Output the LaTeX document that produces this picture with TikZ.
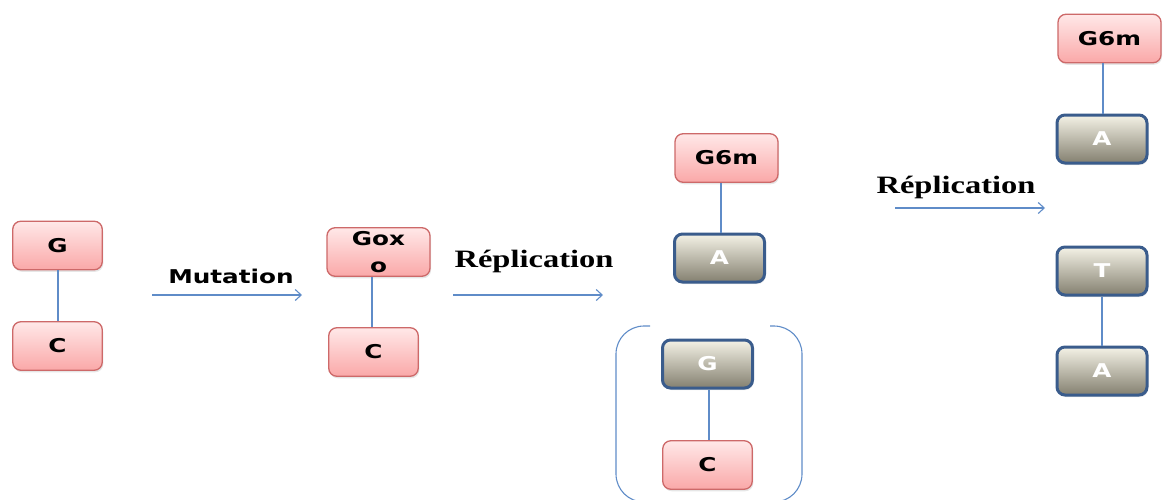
\documentclass[tikz,border=0pt]{standalone}
\usepackage{fontspec}
\usetikzlibrary{arrows.meta,shadows}
\newfontfamily\boxfont[FakeStretch=1.3]{DejaVu Sans Bold}
\newfontfamily\repfont[FakeStretch=1.3]{Liberation Serif Bold}
\definecolor{pinktop}{RGB}{255,232,232}
\definecolor{pinkbot}{RGB}{250,168,168}
\definecolor{pinkline}{RGB}{205,105,105}
\definecolor{graytop}{RGB}{244,242,230}
\definecolor{graybot}{RGB}{132,128,112}
\definecolor{grayline}{RGB}{58,92,140}
\definecolor{linkblue}{RGB}{95,140,200}
\tikzset{
  pinkbox/.style={draw=pinkline, line width=1.3pt, rounded corners=8pt,
    top color=pinktop, bottom color=pinkbot, minimum width=89.5pt, minimum height=48.5pt,
    font=\boxfont\fontsize{19}{27}\selectfont, text=black, align=center, inner sep=1pt,
    drop shadow={opacity=0.2, shadow xshift=1pt, shadow yshift=-2pt}},
  graybox/.style={draw=grayline, line width=3pt, rounded corners=8pt,
    top color=graytop, bottom color=graybot, minimum width=90pt, minimum height=48pt,
    font=\boxfont\fontsize{19}{27}\selectfont, text=white,
    drop shadow={opacity=0.2, shadow xshift=1pt, shadow yshift=-2pt}},
  link/.style={draw=linkblue, line width=1.1pt},
  flow/.style={draw=linkblue, line width=1.1pt, -{Straight Barb[length=6pt,width=11pt]}},
  mutlabel/.style={font=\boxfont\fontsize{19}{20}\selectfont, anchor=base, inner sep=0pt},
  replabel/.style={font=\repfont\fontsize{25}{28}\selectfont, anchor=base, inner sep=0pt},
  bracket/.style={draw=linkblue, line width=1.1pt, rounded corners=28pt}
}
\begin{document}
\begin{tikzpicture}[x=1pt,y=-1pt]
\useasboundingbox (0,0) rectangle (1170,499);
\clip (0,0) rectangle (1170,499);
% column 1
\node[pinkbox] (g1) at (57.5,245.5) {G};
\node[pinkbox] (c1) at (57.5,346) {C};
\draw[link] (g1.south -| 58,0) -- (c1.north -| 58,0);
% mutation arrow
\coordinate (m1) at (152,295);
\coordinate (m2) at (302,295);
\draw[flow] (m1) -- (m2);
\node[mutlabel] (mut) at (231,283) {Mutation};
% column 2
\node[pinkbox, minimum width=103pt] (gox) at (378.5,252) {Gox\\o};
\node[pinkbox] (c2) at (373.5,352) {C};
\draw[link] (c2.north -| 372,0) -- (gox.south -| 372,0);
% replication arrow 1
\coordinate (r1) at (453,295);
\coordinate (r2) at (603,295);
\draw[flow] (r1) -- (r2);
\node[replabel] (rep1) at (534,267) {Réplication};
% column 3
\node[pinkbox, minimum width=103pt] (g6m) at (726.5,158) {G6m};
\node[graybox] (a1) at (719.5,258) {A};
\draw[link] (g6m.south -| 721,0) -- (a1.north -| 721,0);
\node[graybox] (g2) at (707.5,364) {G};
\node[pinkbox] (c3) at (707.5,465) {C};
\draw[link] (g2.south -| 709,0) -- (c3.north -| 709,0);
\draw[bracket] (650,326) -- (616,326) -- (616,502) -- (650,502);
\draw[bracket] (770,326) -- (802,326) -- (802,502) -- (770,502);
% replication arrow 2
\coordinate (s1) at (895,208);
\coordinate (s2) at (1045,208);
\draw[flow] (s1) -- (s2);
\node[replabel] (rep2) at (956,193) {Réplication};
% column 4
\node[pinkbox, minimum width=103pt] (g6mb) at (1109.5,38.5) {G6m};
\node[graybox] (a2) at (1102,139) {A};
\draw[link] (g6mb.south -| 1103,0) -- (a2.north -| 1103,0);
\node[graybox] (t1) at (1102,271) {T};
\node[graybox] (a3) at (1102,371) {A};
\draw[link] (t1) -- (a3);
\end{tikzpicture}
\end{document}
